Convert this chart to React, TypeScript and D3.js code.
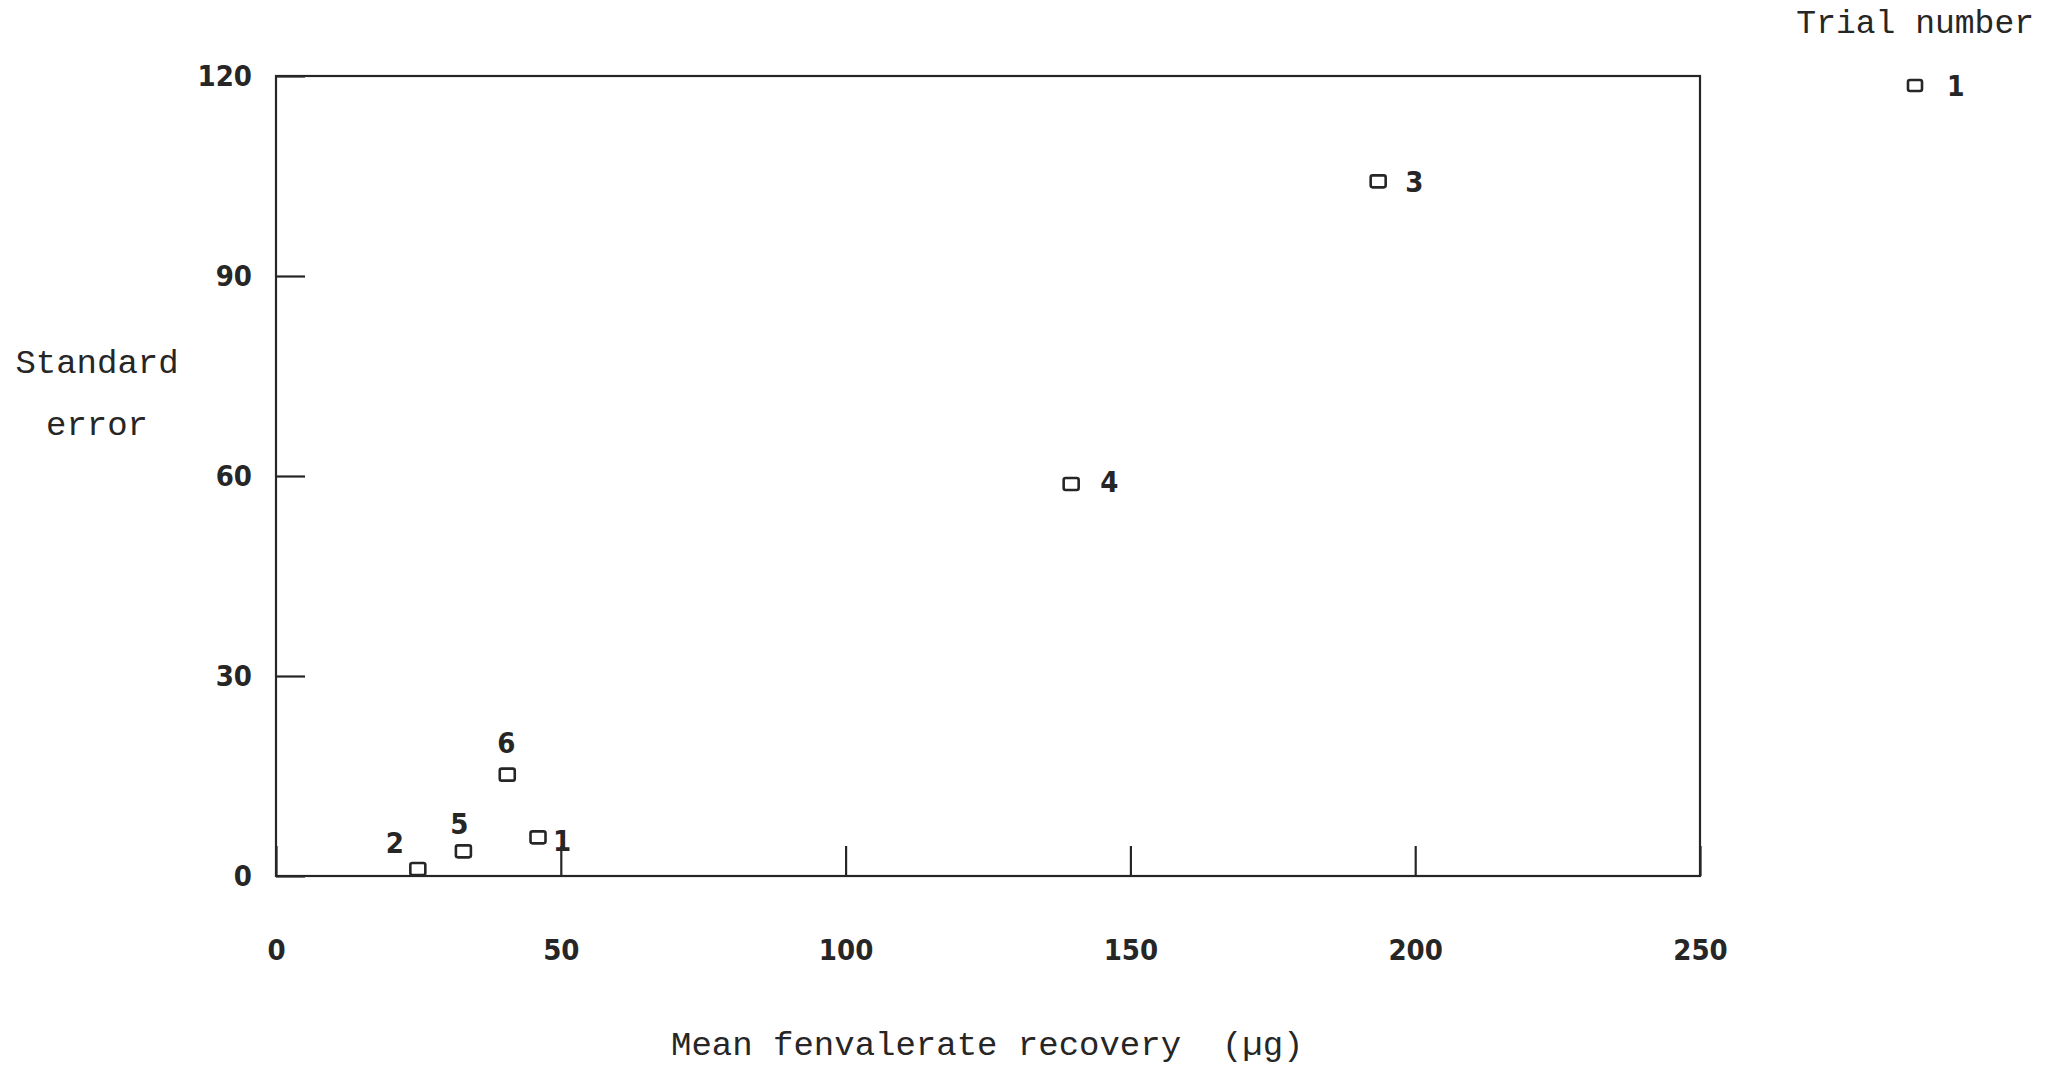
import React, { useRef, useEffect } from "react";
import * as d3 from "d3";

// Trial data
const trials = ["1", "2", "3", "4", "5", "6"];
const meanRecovery = [46.0, 24.9, 193.5, 139.6, 32.9, 40.6];
const standardError = [5.8, 1.05, 104.2, 58.8, 3.7, 15.2];

const xTicks = [0, 50, 100, 150, 200, 250];
const yTicks = [0, 30, 60, 90, 120];

const xTitle = "Mean fenvalerate recovery  (\u00b5g)";
const yTitle = ["Standard", "error"];
const legendTitle = "Trial number";
const legendEntry = "1";

const W = 2056;
const H = 1066;
const INK = "#262626";
const digitFont = "'DejaVu Sans Condensed', 'Liberation Sans Narrow', 'DejaVu Sans', sans-serif";
const monoFont = "'Liberation Mono', 'DejaVu Sans Mono', monospace";

// where each trial number sits relative to its marker
const labelOffset: Record<string, [number, number, string]> = {
  "1": [15, 4, "start"],
  "2": [-23, -26, "middle"],
  "3": [27, 1, "start"],
  "4": [29, -2, "start"],
  "5": [-4, -27, "middle"],
  "6": [-1, -32, "middle"],
};

const App = () => {
  const svgRef = useRef<SVGSVGElement>(null);

  useEffect(() => {
    const svg = d3.select(svgRef.current);
    svg.selectAll("*").remove();

    const x = d3.scaleLinear().domain([0, 250]).range([276, 1700]);
    const y = d3.scaleLinear().domain([0, 120]).range([876, 76]);

    // plot frame
    svg
      .append("rect")
      .attr("x", x(0))
      .attr("y", y(120))
      .attr("width", x(250) - x(0))
      .attr("height", y(0) - y(120))
      .attr("fill", "none")
      .attr("stroke", INK)
      .attr("stroke-width", 2.2);

    // x axis: inward ticks, labels well below
    const gx = svg
      .append("g")
      .attr("transform", `translate(0, ${y(0)})`)
      .call(d3.axisBottom(x).tickValues(xTicks).tickSize(-30).tickPadding(63).tickFormat(d3.format("d")));
    gx.select(".domain").remove();

    // y axis
    const gy = svg
      .append("g")
      .attr("transform", `translate(${x(0)}, 0)`)
      .call(d3.axisLeft(y).tickValues(yTicks).tickSize(-29).tickPadding(24).tickFormat(d3.format("d")));
    gy.select(".domain").remove();

    svg.selectAll(".tick line").attr("stroke", INK).attr("stroke-width", 2.2);
    svg
      .selectAll(".tick text")
      .attr("fill", INK)
      .attr("font-family", digitFont)
      .attr("font-stretch", "condensed")
      .attr("font-weight", "bold")
      .attr("font-size", 29);

    // points
    const pts = trials.map((t, i) => ({ t, mx: meanRecovery[i], se: standardError[i] }));

    svg
      .append("g")
      .selectAll("rect")
      .data(pts)
      .enter()
      .append("rect")
      .attr("x", (d) => x(d.mx) - 7.5)
      .attr("y", (d) => y(d.se) - 6)
      .attr("width", 15)
      .attr("height", 12)
      .attr("rx", 2)
      .attr("fill", "none")
      .attr("stroke", INK)
      .attr("stroke-width", 2.6);

    svg
      .append("g")
      .selectAll("text")
      .data(pts)
      .enter()
      .append("text")
      .attr("x", (d) => x(d.mx) + labelOffset[d.t][0])
      .attr("y", (d) => y(d.se) + labelOffset[d.t][1])
      .attr("text-anchor", (d) => labelOffset[d.t][2])
      .attr("dominant-baseline", "central")
      .attr("fill", INK)
      .attr("font-family", digitFont)
      .attr("font-stretch", "condensed")
      .attr("font-weight", "bold")
      .attr("font-size", 29)
      .text((d) => d.t);

    // axis titles
    svg
      .append("text")
      .attr("x", 671)
      .attr("y", 1055)
      .attr("fill", INK)
      .attr("font-family", monoFont)
      .attr("font-size", 34)
      .attr("xml:space", "preserve")
      .style("white-space", "pre")
      .text(xTitle);

    svg
      .append("g")
      .selectAll("text")
      .data(yTitle)
      .enter()
      .append("text")
      .attr("x", 97)
      .attr("y", (d, i) => 373 + i * 62)
      .attr("text-anchor", "middle")
      .attr("fill", INK)
      .attr("font-family", monoFont)
      .attr("font-size", 34)
      .text((d) => d);

    // legend
    svg
      .append("text")
      .attr("x", 2034)
      .attr("y", 33)
      .attr("text-anchor", "end")
      .attr("fill", INK)
      .attr("font-family", monoFont)
      .attr("font-size", 33)
      .text(legendTitle);

    svg
      .append("rect")
      .attr("x", 1908)
      .attr("y", 80)
      .attr("width", 14)
      .attr("height", 11)
      .attr("rx", 2)
      .attr("fill", "none")
      .attr("stroke", INK)
      .attr("stroke-width", 2.6);

    svg
      .append("text")
      .attr("x", 1947)
      .attr("y", 86)
      .attr("dominant-baseline", "central")
      .attr("fill", INK)
      .attr("font-family", digitFont)
      .attr("font-stretch", "condensed")
      .attr("font-weight", "bold")
      .attr("font-size", 28)
      .text(legendEntry);
  }, []);

  return (
    <svg
      ref={svgRef}
      width={W}
      height={H}
      style={{ position: "absolute", left: 0, top: 0, background: "#fff" }}
    ></svg>
  );
};

export default App;
